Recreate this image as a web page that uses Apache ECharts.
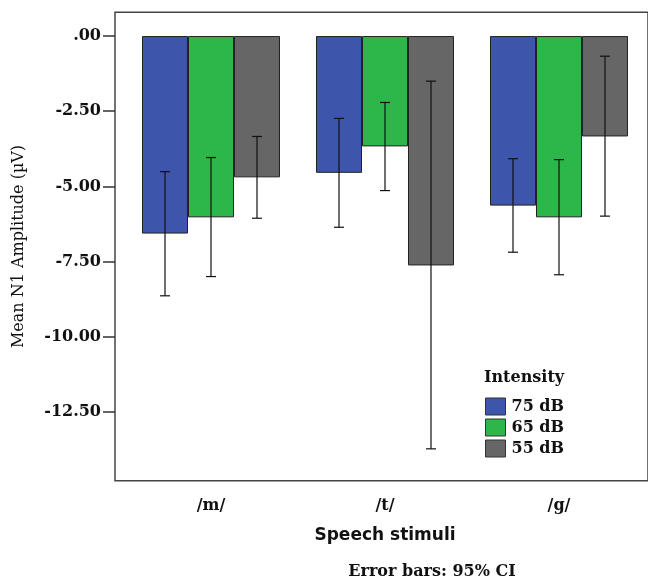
<!DOCTYPE html>
<html><head><meta charset="utf-8">
<script src="https://cdn.jsdelivr.net/npm/echarts@6/dist/echarts.min.js"></script>
<style>html,body{margin:0;padding:0;background:#fff}#c{width:648px;height:582px}</style>
</head><body><div id="c"></div>
<script>
const categories = ['/m/', '/t/', '/g/'];
const seriesNames = ['75 dB', '65 dB', '55 dB'];
const mean75 = [-6.57, -4.55, -5.64];
const mean65 = [-6.03, -3.67, -6.03];
const mean55 = [-4.70, -7.63, -3.34];
const ciLow75 = [-8.64, -6.36, -7.19];
const ciHigh75 = [-4.51, -2.74, -4.08];
const ciLow65 = [-8.00, -5.14, -7.94];
const ciHigh65 = [-4.04, -2.21, -4.11];
const ciLow55 = [-6.06, -13.73, -5.99];
const ciHigh55 = [-3.34, -1.50, -0.67];
const yTicks = [0, -2.5, -5, -7.5, -10, -12.5];

const colors = ['#3D55AA', '#2DB74A', '#666666'];
const GAP = 0.207;
const SERIF = 'DejaVu Serif';

function errRender(idx) {
  return function (params, api) {
    const ci = api.value(0);
    const lo = api.value(1), hi = api.value(2);
    const band = api.size([1, 0])[0];
    const barW = band * (1 - GAP) / 3;
    const cx = api.coord([ci, 0])[0] + (idx - 1) * barW;
    const yLo = api.coord([ci, lo])[1], yHi = api.coord([ci, hi])[1];
    const cap = 5;
    const st = { stroke: '#111', lineWidth: 1.2 };
    return { type: 'group', children: [
      { type: 'line', shape: { x1: cx, y1: yLo, x2: cx, y2: yHi }, style: st },
      { type: 'line', shape: { x1: cx - cap, y1: yLo, x2: cx + cap, y2: yLo }, style: st },
      { type: 'line', shape: { x1: cx - cap, y1: yHi, x2: cx + cap, y2: yHi }, style: st }
    ]};
  };
}

const means = [mean75, mean65, mean55];
const lows = [ciLow75, ciLow65, ciLow55];
const highs = [ciHigh75, ciHigh65, ciHigh55];

const series = [];
seriesNames.forEach((n, i) => {
  series.push({
    name: n, type: 'bar', data: means[i], barGap: '0%', barCategoryGap: (GAP * 100) + '%',
    itemStyle: { color: colors[i], borderColor: '#222', borderWidth: 1 },
    xAxisIndex: 0, yAxisIndex: 0, silent: true
  });
});
seriesNames.forEach((n, i) => {
  series.push({
    type: 'custom', renderItem: errRender(i), xAxisIndex: 0, yAxisIndex: 0, z: 5,
    encode: { x: 0, y: [1, 2] },
    data: categories.map((c, k) => [k, lows[i][k], highs[i][k]]), silent: true
  });
});

const chart = echarts.init(document.getElementById('c'), null, { renderer: 'canvas' });
chart.setOption({
  animation: false,
  backgroundColor: '#fff',
  grid: [
    { left: 124, right: 2, top: 12.3, bottom: 101.3 },
    { left: 115, right: -10, top: 12.3, bottom: 101.3, show: true, borderColor: '#444', borderWidth: 1.5, backgroundColor: 'transparent' }
  ],
  xAxis: [
    { type: 'category', data: categories, gridIndex: 0,
      axisLine: { show: false },
      axisTick: { show: true, alignWithLabel: true, length: 11, lineStyle: { color: '#333', width: 1.5 } },
      axisLabel: { margin: 17, fontFamily: SERIF, fontWeight: 'bold', fontSize: 16, color: '#111' },
      name: 'Speech stimuli', nameLocation: 'middle', nameGap: 46,
      nameTextStyle: { fontFamily: 'DejaVu Sans', fontWeight: 'bold', fontSize: 17, color: '#111' }
    },
    { type: 'value', gridIndex: 1, show: false }
  ],
  yAxis: [
    { type: 'value', gridIndex: 0, min: -14.79, max: 0.79, offset: 9,
      axisLine: { show: false },
      splitLine: { show: false },
      axisTick: { show: true, length: 12, customValues: yTicks, lineStyle: { color: '#333', width: 1.5 } },
      axisLabel: { margin: 14, customValues: yTicks, fontFamily: SERIF, fontWeight: 'bold', fontSize: 16, color: '#111',
        formatter: v => v === 0 ? '.00' : v.toFixed(2) },
      name: 'Mean N1 Amplitude (\u00b5V)', nameLocation: 'middle', nameGap: 88, nameRotate: 90,
      nameTextStyle: { fontFamily: SERIF, fontSize: 16, color: '#111' }
    },
    { type: 'value', gridIndex: 1, show: false }
  ],
  legend: {
    data: seriesNames, orient: 'vertical', left: 485, top: 397.5, padding: 0,
    itemWidth: 20, itemHeight: 17, itemGap: 3, icon: 'rect',
    itemStyle: { borderColor: '#333', borderWidth: 1 },
    textStyle: { fontFamily: SERIF, fontWeight: 'bold', fontSize: 16, color: '#111', padding: [0, 0, 0, 1], lineHeight: 17 },
    selectedMode: false
  },
  graphic: [
    { type: 'text', left: 484, top: 370, style: { text: 'Intensity', fontFamily: SERIF, fontWeight: 'bold', fontSize: 16, fill: '#111' } },
    { type: 'text', x: 432, y: 572, style: { text: 'Error bars: 95% CI', fontFamily: SERIF, fontWeight: 'bold', fontSize: 16, fill: '#111', align: 'center', verticalAlign: 'middle' } }
  ],
  series: series
});
</script></body></html>
